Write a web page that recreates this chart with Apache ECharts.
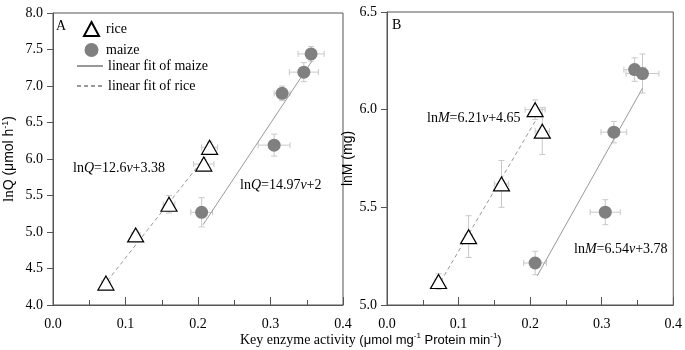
<!DOCTYPE html>
<html>
<head>
<meta charset="utf-8">
<script src="https://cdn.jsdelivr.net/npm/echarts@6/dist/echarts.min.js"></script>
<style>
  html, body { margin: 0; padding: 0; background: #fff; }
  #chart { width: 685px; height: 350px; }
</style>
</head>
<body>
<div id="chart"></div>
<script>
// panel A: lnQ vs key enzyme activity, [activity, lnQ]
const riceA = [[0.073, 4.30], [0.114, 4.96], [0.160, 5.38], [0.208, 5.93], [0.216, 6.16]];
const riceAErr = [[0.006, 0.05], [0.006, 0.05], [0.008, 0.12], [0.014, 0.06], [0.011, 0.07]];
const maizeA = [[0.205, 5.27], [0.305, 6.19], [0.316, 6.90], [0.346, 7.19], [0.356, 7.44]];
const maizeAErr = [[0.015, 0.20], [0.022, 0.15], [0.011, 0.10], [0.020, 0.13], [0.018, 0.10]];
const fitRiceA = [[0.075, 4.33], [0.210, 6.03]];
const fitMaizeA = [[0.207, 5.10], [0.357, 7.34]];

// panel B: lnM vs key enzyme activity
const riceB = [[0.072, 5.12], [0.114, 5.35], [0.160, 5.62], [0.207, 6.00], [0.217, 5.89]];
const riceBErr = [[0.005, 0.04], [0.005, 0.107], [0.010, 0.12], [0.014, 0.05], [0.010, 0.12]];
const maizeB = [[0.207, 5.215], [0.305, 5.475], [0.317, 5.885], [0.346, 6.205], [0.357, 6.185]];
const maizeBErr = [[0.016, 0.06], [0.021, 0.064], [0.018, 0.055], [0.015, 0.06], [0.023, 0.10]];
const fitRiceB = [[0.075, 5.12], [0.207, 5.94]];
const fitMaizeB = [[0.210, 5.15], [0.357, 6.11]];

const xTickLabels = ['0.0', '0.1', '0.2', '0.3', '0.4'];

var chart = echarts.init(document.getElementById('chart'));

const serif = '"Liberation Serif", "Times New Roman", serif';
const sans = '"Liberation Sans", Arial, sans-serif';
const axisColor = '#555';

// error bars drawn as custom series, one cross per point
const errBars = (pts, errs, idx) => ({
  type: 'custom',
  xAxisIndex: idx,
  yAxisIndex: idx,
  silent: true,
  z: 1,
  data: pts.map((p, i) => [p[0], p[1], errs[i][0], errs[i][1]]),
  renderItem: function (params, api) {
    const x = api.value(0), y = api.value(1), ex = api.value(2), ey = api.value(3);
    const l = api.coord([x - ex, y]), r = api.coord([x + ex, y]);
    const t = api.coord([x, y + ey]), b = api.coord([x, y - ey]);
    const cap = 3;
    const st = { stroke: '#c8c8c8', lineWidth: 1 };
    return {
      type: 'group',
      children: [
        { type: 'line', shape: { x1: l[0], y1: l[1], x2: r[0], y2: r[1] }, style: st },
        { type: 'line', shape: { x1: l[0], y1: l[1] - cap, x2: l[0], y2: l[1] + cap }, style: st },
        { type: 'line', shape: { x1: r[0], y1: r[1] - cap, x2: r[0], y2: r[1] + cap }, style: st },
        { type: 'line', shape: { x1: t[0], y1: t[1], x2: b[0], y2: b[1] }, style: st },
        { type: 'line', shape: { x1: t[0] - cap, y1: t[1], x2: t[0] + cap, y2: t[1] }, style: st },
        { type: 'line', shape: { x1: b[0] - cap, y1: b[1], x2: b[0] + cap, y2: b[1] }, style: st }
      ]
    };
  }
});

const riceSeries = (data, idx) => ({
  name: 'rice', type: 'scatter', xAxisIndex: idx, yAxisIndex: idx, z: 5,
  symbol: 'triangle', symbolSize: [16, 14], data: data,
  itemStyle: { color: '#fff', borderColor: '#000', borderWidth: 1.2, opacity: 1 }
});
const maizeSeries = (data, idx) => ({
  name: 'maize', type: 'scatter', xAxisIndex: idx, yAxisIndex: idx, z: 5,
  symbol: 'circle', symbolSize: 13, data: data,
  itemStyle: { color: '#808080', opacity: 1 }
});
const fitSeries = (name, data, idx, dashed) => ({
  name: name, type: 'line', xAxisIndex: idx, yAxisIndex: idx, z: 3,
  symbol: 'none', data: data, silent: true,
  lineStyle: { color: '#999', width: 1, type: dashed ? [4, 3] : 'solid' },
  itemStyle: { color: '#999' }
});

const xAxisBase = (idx) => ({
  type: 'value', gridIndex: idx, min: 0, max: 0.4, interval: 0.1,
  axisLine: { show: true, onZero: false, lineStyle: { color: axisColor } },
  axisTick: { show: true, inside: true, length: 8, lineStyle: { color: axisColor } },
  minorTick: { show: true, splitNumber: 2, length: 5, lineStyle: { color: axisColor } },
  splitLine: { show: false },
  axisLabel: {
    margin: 12, color: '#000', fontFamily: serif, fontSize: 14,
    formatter: (v) => xTickLabels[Math.round(v * 10)]
  }
});

const yName = (rich, text, gap) => ({
  name: text, nameLocation: 'middle', nameRotate: 90, nameGap: gap,
  nameTextStyle: { rich: rich }
});

const richA = {
  s: { fontFamily: serif, fontSize: 15, color: '#000' },
  a: { fontFamily: sans, fontSize: 14, color: '#000' },
  sup: { fontFamily: sans, fontSize: 9, color: '#000', verticalAlign: 'top', padding: [0, 0, 7, 0] }
};

const eqRich = {
  n: { fontFamily: serif, fontSize: 14, color: '#000' },
  i: { fontFamily: serif, fontSize: 14, fontStyle: 'italic', color: '#000' }
};

const legendText = { fontFamily: serif, fontSize: 14, color: '#000' };

option = {
  animation: false,
  backgroundColor: '#fff',
  grid: [
    { left: 50, top: 13, width: 293, height: 292, show: true, borderColor: axisColor, borderWidth: 1 },
    { left: 387, top: 12, width: 290, height: 293, show: true, borderColor: axisColor, borderWidth: 1 }
  ],
  legend: [
    {
      left: 78, top: 16, orient: 'vertical', itemWidth: 15, itemHeight: 14, itemGap: 6,
      data: ['rice', 'maize'],
      textStyle: Object.assign({ padding: [0, 0, 0, 2] }, legendText),
      selectedMode: false
    },
    {
      left: 71, top: 54, orient: 'vertical', itemWidth: 26, itemHeight: 14, itemGap: 6,
      data: [
        { name: 'linear fit of maize', itemStyle: { opacity: 0 } },
        { name: 'linear fit of rice', itemStyle: { opacity: 0 } }
      ],
      textStyle: legendText,
      selectedMode: false
    }
  ],
  xAxis: [xAxisBase(0), xAxisBase(1)],
  yAxis: [
    Object.assign({
      type: 'value', gridIndex: 0, min: 4, max: 8, interval: 0.5,
      axisLine: { show: true, lineStyle: { color: axisColor } },
      axisTick: { show: true, length: 6, lineStyle: { color: axisColor } },
      splitLine: { show: false },
      axisLabel: { margin: 10, color: '#000', fontFamily: serif, fontSize: 14, formatter: (v) => v.toFixed(1) }
    }, yName(richA, '{s|ln}{a|Q (μmol h}{sup|-1}{a|)}', 36)),
    Object.assign({
      type: 'value', gridIndex: 1, min: 5, max: 6.5, interval: 0.5,
      axisLine: { show: true, lineStyle: { color: axisColor } },
      axisTick: { show: true, length: 6, lineStyle: { color: axisColor } },
      splitLine: { show: false },
      axisLabel: { margin: 10, color: '#000', fontFamily: serif, fontSize: 14, formatter: (v) => v.toFixed(1) }
    }, yName(richA, '{a|lnM (mg)}', 28))
  ],
  graphic: [
    { type: 'text', left: 56, top: 19, style: { text: 'A', font: '14px ' + serif, fill: '#000' } },
    { type: 'text', left: 392, top: 18, style: { text: 'B', font: '14px ' + serif, fill: '#000' } },
    { type: 'text', left: 73, top: 161, style: { text: '{n|ln}{i|Q}{n|=12.6}{i|v}{n|+3.38}', rich: eqRich } },
    { type: 'text', left: 240, top: 178, style: { text: '{n|ln}{i|Q}{n|=14.97}{i|v}{n|+2}', rich: eqRich } },
    { type: 'text', left: 427, top: 111, style: { text: '{n|ln}{i|M}{n|=6.21}{i|v}{n|+4.65}', rich: eqRich } },
    { type: 'text', left: 574, top: 242, style: { text: '{n|ln}{i|M}{n|=6.54}{i|v}{n|+3.78}', rich: eqRich } },
    {
      type: 'text', left: 240, top: 332,
      style: {
        text: '{s|Key enzyme activity }{a|(μmol mg}{sup|-1}{a| Protein min}{sup|-1}{a|)}',
        rich: {
          s: { fontFamily: serif, fontSize: 14, color: '#000' },
          a: { fontFamily: sans, fontSize: 13, color: '#000' },
          sup: { fontFamily: sans, fontSize: 8, color: '#000', verticalAlign: 'top', padding: [0, 0, 8, 0] }
        }
      }
    }
  ],
  series: [
    errBars(riceA, riceAErr, 0),
    errBars(maizeA, maizeAErr, 0),
    fitSeries('linear fit of maize', fitMaizeA, 0, false),
    fitSeries('linear fit of rice', fitRiceA, 0, true),
    riceSeries(riceA, 0),
    maizeSeries(maizeA, 0),
    errBars(riceB, riceBErr, 1),
    errBars(maizeB, maizeBErr, 1),
    fitSeries('linear fit of maize', fitMaizeB, 1, false),
    fitSeries('linear fit of rice', fitRiceB, 1, true),
    riceSeries(riceB, 1),
    maizeSeries(maizeB, 1)
  ]
};

chart.setOption(option);
</script>
</body>
</html>
